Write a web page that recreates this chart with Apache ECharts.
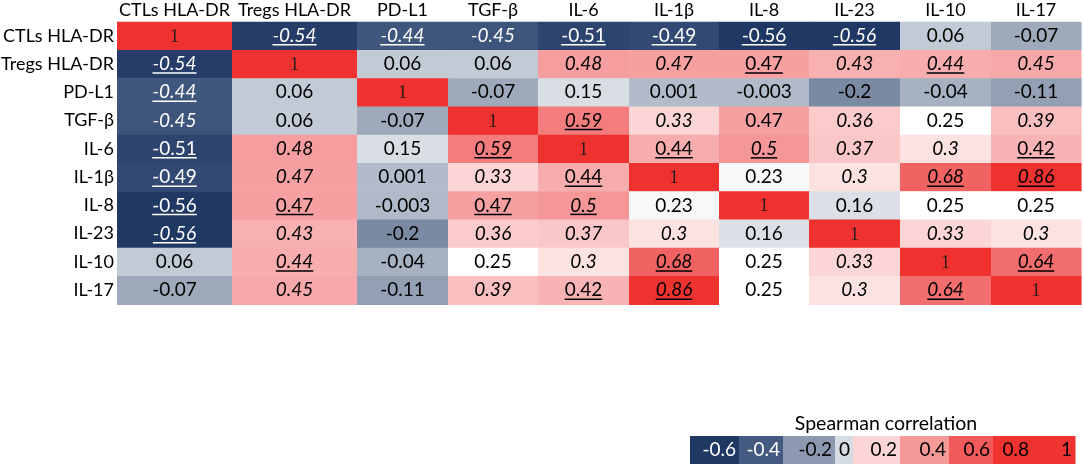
<!DOCTYPE html>
<html>
<head>
<meta charset="utf-8">
<script src="https://cdn.jsdelivr.net/npm/echarts@6/dist/echarts.min.js"></script>
<style>
  html, body { margin: 0; padding: 0; background: #fff; }
  #chart { width: 1084px; height: 466px; }
</style>
</head>
<body>
<div id="chart"></div>
<script>
// labels (same order for rows and columns)
const labels = ['CTLs HLA-DR', 'Tregs HLA-DR', 'PD-L1', 'TGF-β', 'IL-6', 'IL-1β', 'IL-8', 'IL-23', 'IL-10', 'IL-17'];

// Spearman correlation, one row per label
const rCTLs  = [1, -0.54, -0.44, -0.45, -0.51, -0.49, -0.56, -0.56, 0.06, -0.07];
const rTregs = [-0.54, 1, 0.06, 0.06, 0.48, 0.47, 0.47, 0.43, 0.44, 0.45];
const rPDL1  = [-0.44, 0.06, 1, -0.07, 0.15, 0.001, -0.003, -0.2, -0.04, -0.11];
const rTGFb  = [-0.45, 0.06, -0.07, 1, 0.59, 0.33, 0.47, 0.36, 0.25, 0.39];
const rIL6   = [-0.51, 0.48, 0.15, 0.59, 1, 0.44, 0.5, 0.37, 0.3, 0.42];
const rIL1b  = [-0.49, 0.47, 0.001, 0.33, 0.44, 1, 0.23, 0.3, 0.68, 0.86];
const rIL8   = [-0.56, 0.47, -0.003, 0.47, 0.5, 0.23, 1, 0.16, 0.25, 0.25];
const rIL23  = [-0.56, 0.43, -0.2, 0.36, 0.37, 0.3, 0.16, 1, 0.33, 0.3];
const rIL10  = [0.06, 0.44, -0.04, 0.25, 0.3, 0.68, 0.25, 0.33, 1, 0.64];
const rIL17  = [-0.07, 0.45, -0.11, 0.39, 0.42, 0.86, 0.25, 0.3, 0.64, 1];
const corr = [rCTLs, rTregs, rPDL1, rTGFb, rIL6, rIL1b, rIL8, rIL23, rIL10, rIL17];

// significance marks as printed: i = italic, u = underlined
const marks = [
  ['', 'iu', 'iu', 'i', 'u', 'u', 'u', 'iu', '', ''],
  ['iu', '', '', '', 'i', 'i', 'u', 'i', 'iu', 'i'],
  ['iu', '', '', '', '', '', '', '', '', ''],
  ['i', '', '', '', 'iu', 'i', '', 'i', '', 'i'],
  ['u', 'i', '', 'iu', '', 'u', 'iu', 'i', 'i', 'u'],
  ['u', 'i', '', 'i', 'u', '', '', 'i', 'iu', 'iu'],
  ['u', 'u', '', 'u', 'iu', '', '', '', '', ''],
  ['iu', 'i', '', 'i', 'i', 'i', '', '', 'i', 'i'],
  ['', 'iu', '', '', 'i', 'iu', '', 'i', '', 'iu'],
  ['', 'i', '', 'i', 'u', 'iu', '', 'i', 'iu', '']
];

// colour legend tick labels
const legendTicks = ['-0.6', '-0.4', '-0.2', '0', '0.2', '0.4', '0.6', '0.8', '1'];

// ---- layout / style ----
const FONT = 'Lato';
const LABEL_SIZE = 18;
const CELL_SIZE = 19;
const colWidths = [115, 125, 91, 90, 91, 90, 90, 91, 91, 90];
const colEdges = [0];
colWidths.forEach(w => colEdges.push(colEdges[colEdges.length - 1] + w));
const colCenters = colWidths.map((w, i) => colEdges[i] + w / 2);

const colorStops = [
  [-0.56, [31, 56, 100]], [-0.44, [64, 87, 125]], [-0.2, [122, 138, 162]],
  [0.06, [194, 202, 214]], [0.16, [220, 224, 230]], [0.25, [255, 255, 255]],
  [0.3, [253, 226, 226]], [0.47, [246, 160, 162]], [0.68, [241, 98, 98]],
  [0.86, [238, 50, 48]], [1, [239, 50, 48]]
];
function colorAt(v) {
  for (let k = 1; k < colorStops.length; k++) {
    const a = colorStops[k - 1], b = colorStops[k];
    if (v <= b[0]) {
      const t = (v - a[0]) / (b[0] - a[0]);
      const c = a[1].map((x, j) => Math.round(x + (b[1][j] - x) * t));
      return 'rgb(' + c.join(',') + ')';
    }
  }
  return 'rgb(239,50,48)';
}
const vmMin = -0.56, vmMax = 1;
const ramp = [];
for (let k = 0; k <= 156; k++) ramp.push(colorAt(vmMin + (vmMax - vmMin) * k / 156));

const legendEdges = [690, 739, 783, 835, 853, 900, 949, 993, 1032, 1075];
const legendColors = ['#1F3864', '#445A80', '#8C99B0', '#D6DCE4', '#FCD6D6', '#F59898', '#F05A5A', '#EE3330', '#EE3330'];
const legendText = ['#fff', '#fff', '#000', '#000', '#000', '#000', '#000', '#000', '#000'];

// text width for underlines
const measure = document.createElement('canvas').getContext('2d');
function textWidth(txt, font) { measure.font = font; return measure.measureText(txt).width; }

const cells = [];
corr.forEach((row, r) => row.forEach((v, c) => {
  cells.push([colEdges[c], colEdges[c + 1], r, v, marks[r][c]]);
}));

const chart = echarts.init(document.getElementById('chart'));

const legendGraphics = [];
legendTicks.forEach((t, i) => {
  const x0 = legendEdges[i], x1 = legendEdges[i + 1];
  legendGraphics.push({
    type: 'rect', shape: { x: x0, y: 436, width: x1 - x0 + 0.5, height: 28 },
    style: { fill: legendColors[i] }
  });
  legendGraphics.push({
    type: 'text', x: x1 - 3, y: 450,
    style: { text: t, fill: legendText[i], font: CELL_SIZE + 'px ' + FONT, textAlign: 'right', textVerticalAlign: 'middle' }
  });
});
legendGraphics.push({
  type: 'text', x: 886, y: 424,
  style: { text: 'Spearman correlation', fill: '#000', font: '19.5px ' + FONT, textAlign: 'center', textVerticalAlign: 'middle' }
});

chart.setOption({
  animation: false,
  backgroundColor: '#fff',
  grid: { left: 117, right: 3, top: 21.7, bottom: 161.7, containLabel: false, outerBoundsMode: 'none' },
  xAxis: {
    type: 'value', position: 'top', min: 0, max: colEdges[colEdges.length - 1],
    axisLine: { show: false }, axisTick: { show: false }, splitLine: { show: false },
    axisLabel: {
      customValues: colCenters,
      formatter: v => {
        let best = 0;
        colCenters.forEach((cc, i) => { if (Math.abs(cc - v) < Math.abs(colCenters[best] - v)) best = i; });
        return labels[best];
      },
      fontFamily: FONT, fontSize: LABEL_SIZE, color: '#000', margin: 3
    }
  },
  yAxis: {
    type: 'category', inverse: true, data: labels,
    axisLine: { show: false }, axisTick: { show: false }, splitLine: { show: false },
    axisLabel: { fontFamily: FONT, fontSize: LABEL_SIZE, color: '#000', margin: 3 }
  },
  visualMap: {
    show: false, type: 'continuous', dimension: 3, min: vmMin, max: vmMax,
    seriesIndex: 0, inRange: { color: ramp }
  },
  series: [{
    type: 'custom',
    encode: { x: [0, 1], y: 2 },
    data: cells,
    renderItem: function (params, api) {
      const x0 = api.value(0), x1 = api.value(1), r = api.value(2), v = api.value(3);
      const mark = cells[params.dataIndex][4];
      const p0 = api.coord([x0, r]);
      const p1 = api.coord([x1, r]);
      const h = api.size([0, 1])[1];
      const cx = (p0[0] + p1[0]) / 2, cy = p0[1];
      const children = [{
        type: 'rect',
        shape: { x: p0[0], y: cy - h / 2, width: p1[0] - p0[0] + 0.6, height: h + 0.6 },
        style: { fill: api.visual('color') }
      }];
      if (v === 1) {
        children.push({
          type: 'text', x: cx, y: cy + 1,
          style: { text: '1', fill: '#2a1c1c', font: '19px "Liberation Serif"', textAlign: 'center', textVerticalAlign: 'middle' }
        });
      } else {
        const italic = mark.indexOf('i') >= 0;
        const under = mark.indexOf('u') >= 0;
        const font = (italic ? 'italic ' : '') + CELL_SIZE + 'px ' + FONT;
        const txt = String(v);
        const fill = v < -0.3 ? '#fff' : '#000';
        children.push({
          type: 'text', x: cx, y: cy,
          style: { text: txt, fill: fill, font: font, textAlign: 'center', textVerticalAlign: 'middle' }
        });
        if (under) {
          const w = textWidth(txt, font);
          children.push({
            type: 'line',
            shape: { x1: cx - w / 2, y1: cy + 9, x2: cx + w / 2, y2: cy + 9 },
            style: { stroke: fill, lineWidth: 1.5 }
          });
        }
      }
      return { type: 'group', children: children };
    }
  }],
  graphic: legendGraphics
});
</script>
</body>
</html>
